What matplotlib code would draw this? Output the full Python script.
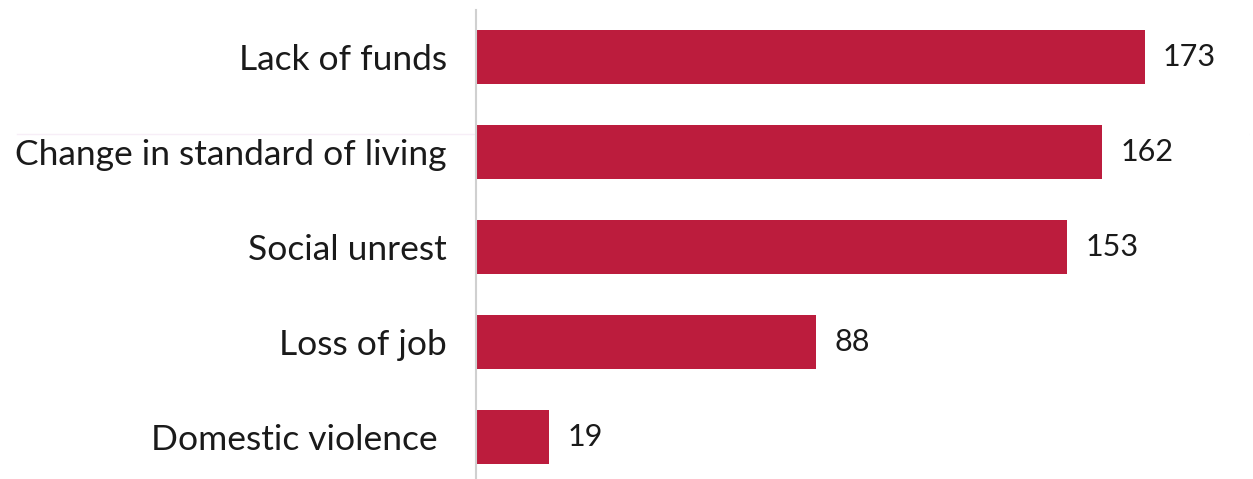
import matplotlib
matplotlib.use("Agg")
import matplotlib.pyplot as plt
from matplotlib.lines import Line2D

categories = ["Lack of funds", "Change in standard of living", "Social unrest", "Loss of job", "Domestic violence "]
values = [173, 162, 153, 88, 19]

plt.rcParams['font.family'] = ['Lato', 'DejaVu Sans']

W, H = 1253, 479
fig = plt.figure(figsize=(W/100, H/100), dpi=100)
ax = fig.add_axes([476/W, 0, (1249-476)/W, (479-10)/H])

ypos = list(range(len(categories)))
ax.barh(ypos, values, height=0.567, color="#BC1C3D")
ax.set_xlim(0, 200)
ax.set_ylim(4.44, -0.49)

for y, v in zip(ypos, values):
    ax.text(v + 4.7, y, str(v), va="center", ha="left", fontsize=22,
            color="#1a1a1a")

ax.set_yticks(ypos)
ax.set_yticklabels(categories, fontsize=25.5, color="#1a1a1a")
ax.tick_params(axis="y", length=0, pad=21)
ax.set_xticks([])
for s in ["top", "right", "bottom"]:
    ax.spines[s].set_visible(False)
ax.spines["left"].set_color("#d0d0d0")
ax.spines["left"].set_linewidth(1.5)

fig.add_artist(Line2D([17/W, 1248/W], [1 - 134/H, 1 - 134/H], transform=fig.transFigure,
                      color="#f7eef7", linewidth=1, zorder=0))

fig.savefig("out.png", dpi=100)
